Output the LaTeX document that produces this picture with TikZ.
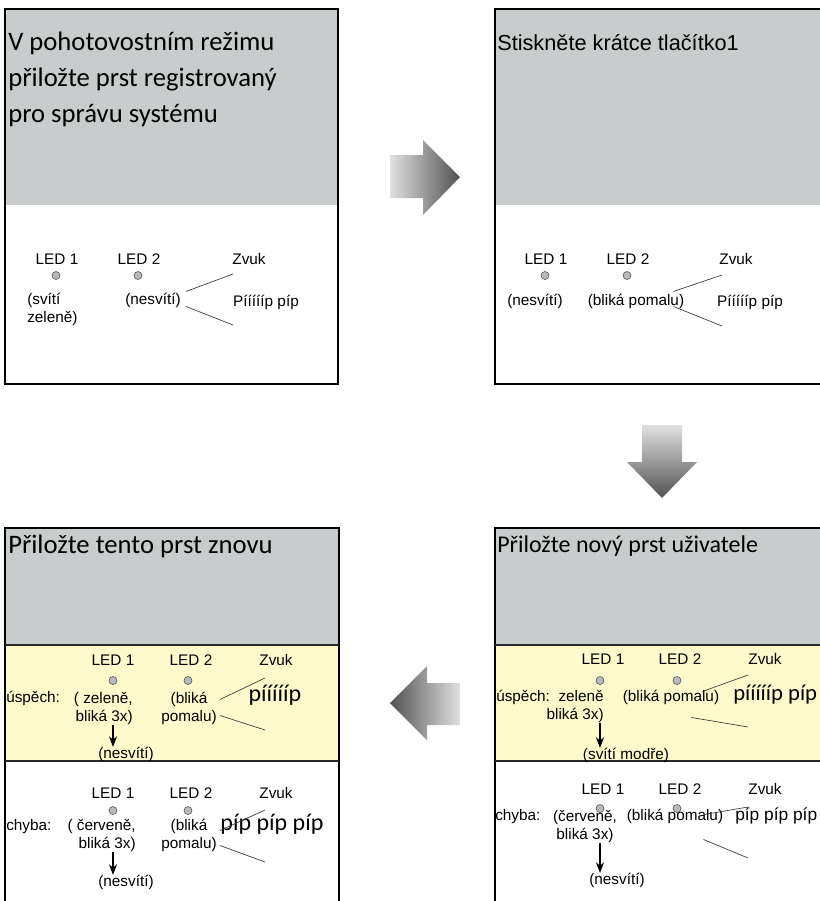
\documentclass[tikz,border=0pt]{standalone}
\usepackage{fontspec}
\setmainfont{Liberation Sans}
\newfontfamily\calfont{Carlito}
\usetikzlibrary{arrows.meta}
\usepackage{xcolor}
\definecolor{panelgray}{RGB}{201,204,204}
\definecolor{okyellow}{RGB}{255,249,204}

\begin{document}
\begin{tikzpicture}[x=0.75pt, y=-0.75pt,
every node/.style={
    inner sep=0pt,
    anchor=mid,
    font=\fontsize{11.5}{13.5}\selectfont
},
leddot/.style={circle, draw=gray!60!black, fill=gray!55, line width=0.4pt, minimum size=6pt},
bigtitle/.style={font=\calfont\fontsize{20}{27}\selectfont, align=left},
bigsound/.style={font=\calfont\fontsize{18}{20}\selectfont},
frame/.style={line width=2.2pt},
divider/.style={line width=1.5pt, black!85},
fan/.style={gray!45!black, line width=0.5pt},
ledarrow/.style={-{Stealth[length=8pt,width=6pt]}, line width=0.8pt}
]
    \useasboundingbox (0,0) rectangle (820,901);
    \clip (0,0) rectangle (820,901);

    % panel backgrounds
    \fill[panelgray] (5,9) rectangle (338,205);
    \fill[panelgray] (495,9) rectangle (840,205);
    \fill[panelgray] (5,528) rectangle (339,645);
    \fill[okyellow] (5,645) rectangle (339,761);
    \fill[panelgray] (495,528) rectangle (840,645);
    \fill[okyellow] (495,645) rectangle (840,761);

    \draw[frame] (5,9) rectangle (338,384);
    \draw[frame] (495,9) rectangle (840,384);
    \draw[frame] (5,528) rectangle (339,930);
    \draw[frame] (495,528) rectangle (840,930);
    \draw[divider] (5,645) -- (339,645);
    \draw[divider] (5,761) -- (339,761);
    \draw[divider] (495,645) -- (840,645);
    \draw[divider] (495,761) -- (840,761);

    % big arrows
    \shade[left color=black!12, right color=black!68]
        (390,155) -- (423,155) -- (423,140) -- (460,177) -- (423,215) -- (423,198) -- (390,198) -- cycle;
    \shade[top color=black!12, bottom color=black!68]
        (642,425) -- (682,425) -- (682,462) -- (697,462) -- (662,498) -- (627,462) -- (642,462) -- cycle;
    \shade[left color=black!68, right color=black!12]
        (460,683) -- (427,683) -- (427,666) -- (390,703) -- (427,740) -- (427,725) -- (460,725) -- cycle;

    % panel 1
    \node (title_a) [bigtitle, anchor=north west, shift={(8,32)}]
    {
        V pohotovostním režimu\\přiložte prst registrovaný\\pro správu systému
    };

    \node (led_one_a) [shift={(57,261)}] {LED 1};
    \node (dot_one_a) [leddot, shift={(56,272)}] {};
    \node (led_two_a) [shift={(139,261)}] {LED 2};
    \node (dot_two_a) [leddot, shift={(138,272)}] {};
    \node (zvuk_a) [shift={(249,261)}] {Zvuk};

    \node (stat_one_a) [anchor=north west, align=left, shift={(27,293)}]
    {
        (svítí\\zeleně)
    };
    \node (stat_two_a) [shift={(153,301)}] {(nesvítí)};
    \node (snd_a) [shift={(266,303)}] {Píííííp píp};

    \coordinate (fan_up_a) at (233,274);
    \coordinate (fan_dn_a) at (233,325);

    \draw[fan] ([shift={(5,-9)}]stat_two_a.east) to (fan_up_a);
    \draw[fan] ([shift={(5,6)}]stat_two_a.east) to (fan_dn_a);

    % panel 2
    \node (title_b) [anchor=base west, font=\fontsize{16.3}{19}\selectfont, shift={(497,50)}]
    {
        Stiskněte krátce tlačítko1
    };

    \node (led_one_b) [shift={(546,261)}] {LED 1};
    \node (dot_one_b) [leddot, shift={(545,272)}] {};
    \node (led_two_b) [shift={(628,261)}] {LED 2};
    \node (dot_two_b) [leddot, shift={(627,272)}] {};
    \node (zvuk_b) [shift={(736,261)}] {Zvuk};

    \node (stat_one_b) [shift={(535,302)}] {(nesvítí)};
    \node (stat_two_b) [shift={(636,302)}] {(bliká pomalu)};
    \node (snd_b) [shift={(750,303)}] {Píííííp píp};

    \coordinate (fan_up_b) at (722,275);
    \coordinate (fan_dn_b) at (722,326);

    \draw[fan] ([shift={(-11,-10)}]stat_two_b.east) to (fan_up_b);
    \draw[fan] ([shift={(-11,5)}]stat_two_b.east) to (fan_dn_b);

    % panel 3
    \node (title_c) [bigtitle, anchor=base west, shift={(8,553)}]
    {
        Přiložte tento prst znovu
    };

    \node (led_one_c) [shift={(113,662)}] {LED 1};
    \node (dot_one_c) [leddot, shift={(113,677)}] {};
    \node (led_two_c) [shift={(191,662)}] {LED 2};
    \node (dot_two_c) [leddot, shift={(188,677)}] {};
    \node (zvuk_c) [shift={(276,662)}] {Zvuk};

    \node (ok_c) [anchor=mid west, shift={(6,699)}] {úspěch:};
    \node (stat_one_c) [anchor=north east, align=right, shift={(133,692)}]
    {
        ( zeleně,\\bliká 3x)
    };
    \node (off_c) [shift={(126,755)}] {(nesvítí)};
    \node (stat_two_c) [anchor=north, align=center, shift={(189,692)}]
    {
        (bliká\\pomalu)
    };
    \node (snd_c) [bigsound, shift={(275,698)}] {píííííp};

    \coordinate (fan_up_c) at (265,678);
    \coordinate (fan_dn_c) at (265,730);

    \draw[ledarrow] (stat_one_c.south -| dot_one_c) to (off_c.north -| dot_one_c);
    \draw[fan] ([shift={(3,-9)}]stat_two_c.east) to (fan_up_c);
    \draw[fan] ([shift={(3,7)}]stat_two_c.east) to (fan_dn_c);

    \node (led_one_d) [shift={(113,795)}] {LED 1};
    \node (dot_one_d) [leddot, shift={(113,807)}] {};
    \node (led_two_d) [shift={(191,795)}] {LED 2};
    \node (dot_two_d) [leddot, shift={(188,807)}] {};
    \node (zvuk_d) [shift={(276,795)}] {Zvuk};

    \node (err_d) [anchor=mid west, shift={(6,827)}] {chyba:};
    \node (stat_one_d) [anchor=north east, align=right, shift={(136,819)}]
    {
        ( červeně,\\bliká 3x)
    };
    \node (off_d) [shift={(126,883)}] {(nesvítí)};
    \node (stat_two_d) [anchor=north, align=center, shift={(189,819)}]
    {
        (bliká\\pomalu)
    };
    \node (snd_d) [bigsound, shift={(272,827)}] {píp píp píp};

    \coordinate (fan_up_d) at (265,810);
    \coordinate (fan_dn_d) at (265,862);

    \draw[ledarrow] (stat_one_d.south -| dot_one_d) to (off_d.north -| dot_one_d);
    \draw[fan] ([shift={(3,-5)}]stat_two_d.east) to (fan_up_d);
    \draw[fan] ([shift={(3,10)}]stat_two_d.east) to (fan_dn_d);

    % panel 4
    \node (title_e) [bigtitle, anchor=base west, font=\calfont\fontsize{18}{22}\selectfont, shift={(497,552)}]
    {
        Přiložte nový prst uživatele
    };

    \node (led_one_e) [shift={(603,661)}] {LED 1};
    \node (dot_one_e) [leddot, shift={(600,677)}] {};
    \node (led_two_e) [shift={(680,661)}] {LED 2};
    \node (dot_two_e) [leddot, shift={(677,677)}] {};
    \node (zvuk_e) [shift={(765,661)}] {Zvuk};

    \node (ok_e) [anchor=mid west, shift={(496,698)}] {úspěch:};
    \node (stat_one_e) [anchor=north east, align=right, shift={(604,690)}]
    {
        zeleně\\bliká 3x)
    };
    \node (off_e) [shift={(626,756)}] {(svítí modře)};
    \node (stat_two_e) [shift={(671,698)}] {(bliká pomalu)};
    \node (snd_e) [anchor=mid west, font=\calfont\fontsize{17}{20}\selectfont, shift={(733,697)}] {píííííp píp};

    \coordinate (fan_up_e) at (748,675);
    \coordinate (fan_dn_e) at (748,727);

    \draw[ledarrow] (stat_one_e.south -| dot_one_e) to (off_e.north -| dot_one_e);
    \draw[fan] ([shift={(-17,-6)}]stat_two_e.east) to (fan_up_e);
    \draw[fan] ([shift={(-28,20)}]stat_two_e.east) to (fan_dn_e);

    \node (led_one_f) [shift={(603,791)}] {LED 1};
    \node (dot_one_f) [leddot, shift={(600,805)}] {};
    \node (led_two_f) [shift={(680,791)}] {LED 2};
    \node (dot_two_f) [leddot, shift={(677,805)}] {};
    \node (zvuk_f) [shift={(765,791)}] {Zvuk};

    \node (err_f) [anchor=mid west, shift={(495,817)}] {chyba:};
    \node (stat_one_f) [anchor=north, align=center, shift={(585,810)}]
    {
        (červeně,\\bliká 3x)
    };
    \node (off_f) [shift={(617,881)}] {(nesvítí)};
    \node (stat_two_f) [shift={(675,817)}] {(bliká pomalu)};
    \node (snd_f) [anchor=mid west, font=\fontsize{13}{15}\selectfont, shift={(735,817)}] {píp píp píp};

    \coordinate (fan_up_f) at (748,807);
    \coordinate (fan_dn_f) at (748,858);

    \draw[ledarrow] (stat_one_f.south -| dot_one_f) to (off_f.north -| dot_one_f);
    \draw[fan] ([shift={(-19,-2)}]stat_two_f.east) to (fan_up_f);
    \draw[fan] ([shift={(-20,23)}]stat_two_f.east) to (fan_dn_f);
\end{tikzpicture}
\end{document}
